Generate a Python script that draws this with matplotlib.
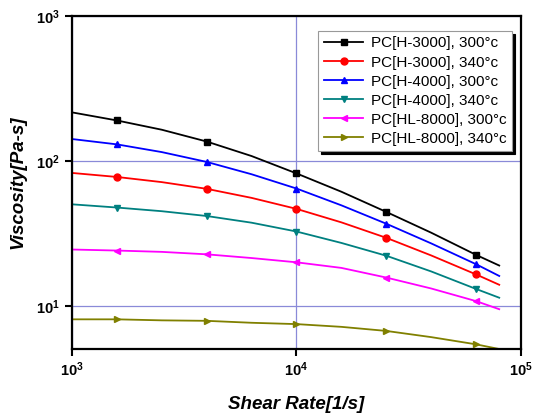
import matplotlib
matplotlib.use("Agg")
import matplotlib.pyplot as plt
from matplotlib.ticker import LogLocator, NullLocator

plt.rcParams['font.family'] = ['Liberation Sans', 'DejaVu Sans']

# shear rate points; markers sit on every other point
shear_rate = [1000, 1585, 2512, 3981, 6310, 10000, 15849, 25119, 39811, 63096, 80000]

visc_h3000_300 = [216, 190, 164, 136, 108, 82, 61.3, 44.5, 32.0, 22.5, 19.0]
visc_h3000_340 = [82.6, 77.5, 71.4, 64.2, 55.6, 46.7, 37.7, 29.5, 22.3, 16.5, 14.0]
visc_h4000_300 = [141.5, 130, 115, 98.4, 80.9, 64.5, 49.4, 36.9, 27.0, 19.4, 16.1]
visc_h4000_340 = [50.2, 47.7, 45.0, 41.7, 37.5, 32.6, 27.2, 22.2, 17.3, 13.1, 11.4]
visc_hl8000_300 = [24.5, 24.1, 23.6, 22.7, 21.4, 20.0, 18.3, 15.7, 13.2, 10.8, 9.5]
visc_hl8000_340 = [8.09, 8.09, 7.96, 7.9, 7.66, 7.5, 7.18, 6.73, 6.1, 5.44, 5.05]

labels = ['PC[H-3000], 300\u00b0c', 'PC[H-3000], 340\u00b0c',
          'PC[H-4000], 300\u00b0c', 'PC[H-4000], 340\u00b0c',
          'PC[HL-8000], 300\u00b0c', 'PC[HL-8000], 340\u00b0c']
series = [visc_h3000_300, visc_h3000_340, visc_h4000_300,
          visc_h4000_340, visc_hl8000_300, visc_hl8000_340]
colors = ['black', 'red', 'blue', '#008080', 'magenta', '#808000']
markers = ['s', 'o', '^', 'v', '<', '>']

fig = plt.figure(figsize=(5.41, 4.16), dpi=100)
ax = fig.add_axes([0.133, 0.161, 0.830, 0.801])

for y, lab, c, m in zip(series, labels, colors, markers):
    ax.plot(shear_rate, y, color=c, marker=m, markersize=5, lw=1.3,
            markevery=[1, 3, 5, 7, 9], label=lab)

ax.set_xscale('log')
ax.set_yscale('log')
ax.set_xlim(1e3, 1e5)
ax.set_ylim(5.05, 1e3)
ax.xaxis.set_major_locator(LogLocator(base=10, numticks=10))
ax.yaxis.set_major_locator(LogLocator(base=10, numticks=10))
ax.xaxis.set_minor_locator(NullLocator())
ax.yaxis.set_minor_locator(NullLocator())

ax.grid(True, which='major', color='#8a8ad8', lw=0.9)
ax.set_axisbelow(True)

for sp in ax.spines.values():
    sp.set_linewidth(1.6)
ax.tick_params(direction='out', length=5, width=1.5, top=False, right=False,
               labelsize=10.5)
for t in ax.get_xticklabels() + ax.get_yticklabels():
    t.set_fontweight('bold')

ax.set_xlabel('Shear Rate[1/s]', fontsize=13.5, fontweight='bold',
              fontstyle='italic', labelpad=12)
ax.set_ylabel('Viscosity[Pa-s]', fontsize=13.5, fontweight='bold',
              fontstyle='italic', labelpad=7)

leg = ax.legend(loc='upper right', bbox_to_anchor=(0.98, 0.954), fontsize=11,
                frameon=True, fancybox=False, shadow={'color': 'black', 'alpha': 1},
                edgecolor='#999999', handlelength=2.6, borderpad=0.35,
                labelspacing=0.33, handletextpad=0.5, borderaxespad=0)
leg.get_frame().set_linewidth(0.8)

fig.savefig('out.png', dpi=100)
